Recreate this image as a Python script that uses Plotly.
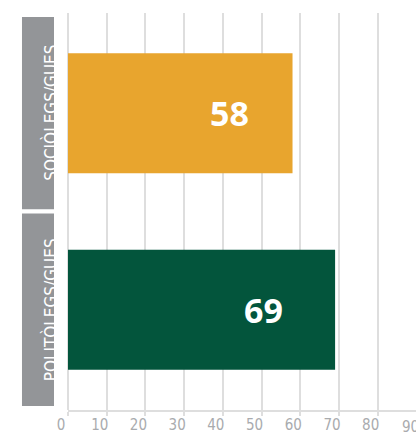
import plotly.graph_objects as go

categories = ["SOCIÒLEGS/GUES", "POLITÒLEGS/GUES"]
values = [58, 69]
colors = ["#E8A52E", "#03553C"]
label_shift = [-42, -50]
tick_vals = [0, 10, 20, 30, 40, 50, 60, 70, 80]
edge_tick = "90"

COND = "DejaVu Sans Condensed"

fig = go.Figure()
fig.add_trace(go.Bar(
    y=categories, x=values, orientation="h",
    marker=dict(color=colors, line=dict(width=0)),
    hoverinfo="skip", showlegend=False,
))

# value labels inside bars
for c, v, s in zip(categories, values, label_shift):
    fig.add_annotation(x=v, y=c, xref="x", yref="y", text=f"<b>{v}</b>",
                       showarrow=False, xanchor="right", xshift=s,
                       font=dict(family="Open Sans", size=34, color="white"))

# gray category boxes with rotated labels
for i, c in enumerate(categories):
    fig.add_shape(type="rect", xref="paper", yref="y",
                  x0=-0.138, x1=-0.0345, y0=i - 0.5, y1=i + 0.5,
                  fillcolor="#939598", line=dict(color="white", width=4),
                  layer="above")
    fig.add_annotation(x=-0.086, y=c, xref="paper", yref="y", text=c,
                       textangle=-90, showarrow=False,
                       font=dict(family=COND, size=17, color="white"))

fig.add_annotation(x=1.0, y=0, xref="paper", yref="paper", text=edge_tick,
                   showarrow=False, xanchor="center", yanchor="top",
                   yshift=-6, xshift=-6,
                   font=dict(family=COND, size=15, color="#A9ABAE"))

fig.update_layout(
    width=416, height=435,
    margin=dict(l=68, r=0, t=13, b=25, autoexpand=False),
    paper_bgcolor="white", plot_bgcolor="white",
    bargap=0.39,
    xaxis=dict(range=[0, 89.9], tickvals=tick_vals, showgrid=True,
               automargin=False,
               gridcolor="#DEDEDE", gridwidth=1.5, zeroline=True,
               zerolinecolor="#DEDEDE", zerolinewidth=1.5,
               showline=True, linecolor="#DEDEDE", linewidth=2,
               ticks="outside", ticklen=4, tickcolor="#DEDEDE", tickwidth=1.5,
               ticklabelshift=-7, ticklabelstandoff=-4,
               tickfont=dict(family=COND, size=15, color="#A9ABAE"),
               fixedrange=True),
    yaxis=dict(autorange="reversed", showticklabels=False, showgrid=False,
               automargin=False,
               zeroline=False, fixedrange=True),
)

fig.write_html("out.html", config={"displayModeBar": False},
               post_script="document.body.style.margin='0';document.body.style.overflow='hidden';")
